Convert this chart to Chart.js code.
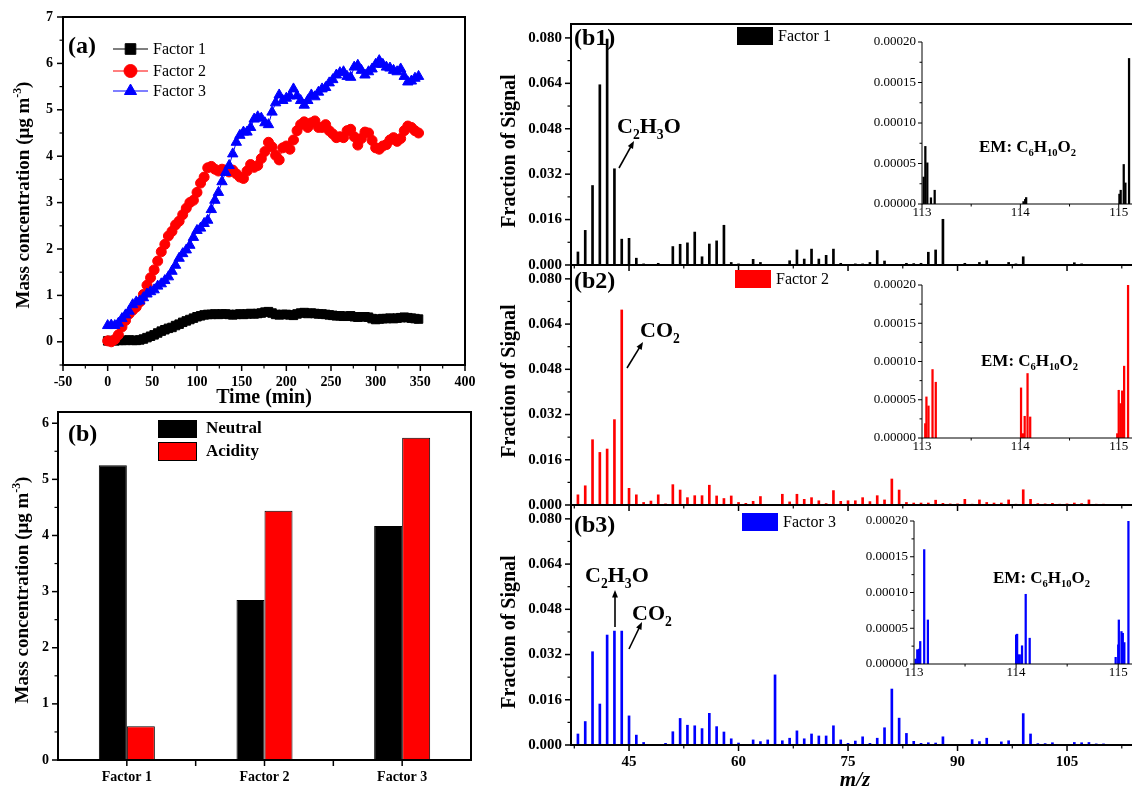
<!DOCTYPE html>
<html><head><meta charset="utf-8">
<script src="https://cdn.jsdelivr.net/npm/chart.js@4.4.1/dist/chart.umd.min.js"></script>
<style>
html,body{margin:0;padding:0;background:#fff;width:1132px;height:788px;overflow:hidden;position:relative;}
canvas{position:absolute;left:0;top:0;}
</style></head><body>
<script>
// ================= DATA =================
const timeMin = [0,4,8,12,16,20,24,28,32,36,40,44,48,52,56,60,64,68,72,76,80,84,88,92,96,100,104,108,112,116,120,124,128,132,136,140,144,148,152,156,160,164,168,172,176,180,184,188,192,196,200,204,208,212,216,220,224,228,232,236,240,244,248,252,256,260,264,268,272,276,280,284,288,292,296,300,304,308,312,316,320,324,328,332,336,340,344,348];
const factor1Series = [0.02,0.03,0.02,0.03,0.03,0.03,0.04,0.03,0.03,0.04,
 0.06,0.09,0.12,0.15,0.19,0.23,0.26,0.29,0.31,0.35,
 0.38,0.42,0.45,0.48,0.51,0.54,0.56,0.58,0.59,0.59,
 0.60,0.59,0.60,0.60,0.59,0.58,0.59,0.60,0.59,0.60,
 0.61,0.60,0.61,0.62,0.64,0.65,0.62,0.59,0.58,0.59,
 0.59,0.58,0.57,0.60,0.62,0.63,0.61,0.62,0.61,0.60,
 0.60,0.59,0.58,0.57,0.56,0.56,0.55,0.55,0.56,0.54,
 0.53,0.54,0.54,0.53,0.50,0.48,0.49,0.50,0.50,0.51,
 0.50,0.51,0.52,0.53,0.52,0.51,0.50,0.49];
const factor2Series = [0.02,0.00,0.05,0.15,0.32,0.46,0.60,0.68,0.75,0.86,
 1.02,1.22,1.38,1.55,1.74,1.94,2.10,2.28,2.38,2.52,
 2.60,2.74,2.88,3.00,3.05,3.22,3.42,3.55,3.75,3.78,
 3.72,3.68,3.72,3.70,3.66,3.70,3.62,3.55,3.52,3.68,
 3.82,3.76,3.80,3.95,4.10,4.30,4.20,4.02,3.92,4.18,
 4.22,4.15,4.35,4.55,4.68,4.74,4.62,4.72,4.76,4.62,
 4.62,4.68,4.55,4.48,4.40,4.42,4.40,4.55,4.58,4.42,
 4.24,4.38,4.52,4.50,4.34,4.18,4.15,4.22,4.25,4.35,
 4.40,4.32,4.38,4.55,4.65,4.62,4.55,4.50];
const factor3Series = [0.35,0.36,0.35,0.40,0.50,0.58,0.66,0.80,0.86,0.88,
 0.95,1.03,1.08,1.12,1.20,1.25,1.32,1.40,1.52,1.65,
 1.80,1.90,1.98,2.08,2.25,2.40,2.45,2.55,2.62,2.85,
 3.05,3.22,3.45,3.65,3.80,4.05,4.30,4.45,4.52,4.52,
 4.62,4.80,4.85,4.82,4.72,4.68,4.95,5.15,5.32,5.20,
 5.25,5.30,5.45,5.30,5.20,5.10,5.20,5.32,5.28,5.38,
 5.45,5.48,5.58,5.65,5.75,5.80,5.82,5.72,5.70,5.92,
 5.96,5.85,5.75,5.82,5.88,5.98,6.06,5.98,5.92,5.90,
 5.85,5.82,5.88,5.72,5.60,5.62,5.68,5.72];
const seriesNames = ['Factor 1','Factor 2','Factor 3'];
const timeTicks = [-50,0,50,100,150,200,250,300,350,400];
const concTicks = [0,1,2,3,4,5,6,7];

const barCategories = ['Factor 1','Factor 2','Factor 3'];
const neutralValues = [5.25,2.85,4.17];
const acidityValues = [0.60,4.44,5.74];
const barTicks = [0,1,2,3,4,5,6];
const barSeriesNames = ['Neutral','Acidity'];

const mzValues = [38,39,40,41,42,43,44,45,46,47,48,49,50,51,52,53,54,55,56,57,58,59,60,61,62,63,64,65,66,67,68,69,70,71,72,73,74,75,76,77,78,79,80,81,82,83,84,85,86,87,88,89,90,91,92,93,94,95,96,97,98,99,100,101,102,103,104,105,106,107,108,109,110,111,112,113];
const factor1Spectrum = [0.0046,0.0122,0.0280,0.0635,0.0796,0.0339,0.0091,0.0094,0.0024,0.0004,
 0.0002,0.0006,0.0001,0.0065,0.0073,0.0078,0.0116,0.0029,0.0074,0.0085,
 0.0140,0.0009,0.0004,0.0001,0.0020,0.0009,0.0002,0.0002,0.0002,0.0015,
 0.0053,0.0021,0.0056,0.0021,0.0034,0.0056,0.0006,0.0002,0.0004,0.0004,
 0.0009,0.0051,0.0014,0.0002,0.0002,0.0006,0.0005,0.0006,0.0045,0.0053,
 0.0161,0.0002,0.0002,0.0006,0.0002,0.0009,0.0015,0.0002,0.0001,0.0009,
 0.0004,0.0029,0.0002,0.0002,0.0002,0.0002,0.0002,0.0002,0.0008,0.0004,
 0.0002,0.0001,0.0002,0.0001,0.0001,0.0001];
const factor2Spectrum = [0.0036,0.0068,0.0231,0.0186,0.0198,0.0302,0.0690,0.0059,0.0036,0.0009,
 0.0014,0.0036,0.0004,0.0072,0.0053,0.0026,0.0033,0.0033,0.0070,0.0032,
 0.0023,0.0032,0.0009,0.0006,0.0013,0.0030,0.0002,0.0002,0.0038,0.0011,
 0.0038,0.0020,0.0026,0.0015,0.0005,0.0051,0.0013,0.0015,0.0015,0.0026,
 0.0012,0.0033,0.0018,0.0092,0.0053,0.0009,0.0007,0.0007,0.0007,0.0017,
 0.0006,0.0004,0.0004,0.0020,0.0003,0.0018,0.0009,0.0007,0.0007,0.0018,
 0.0003,0.0054,0.0020,0.0005,0.0004,0.0006,0.0003,0.0004,0.0007,0.0005,
 0.0018,0.0003,0.0003,0.0002,0.0002,0.0001];
const factor3Spectrum = [0.0039,0.0083,0.0330,0.0145,0.0389,0.0403,0.0403,0.0103,0.0035,0.0009,
 0.0002,0.0001,0.0006,0.0047,0.0094,0.0070,0.0068,0.0058,0.0112,0.0065,
 0.0046,0.0022,0.0007,0.0002,0.0018,0.0012,0.0018,0.0248,0.0015,0.0024,
 0.0050,0.0022,0.0039,0.0032,0.0032,0.0068,0.0018,0.0006,0.0014,0.0029,
 0.0006,0.0024,0.0061,0.0198,0.0095,0.0041,0.0013,0.0006,0.0008,0.0007,
 0.0029,0.0002,0.0002,0.0001,0.0019,0.0012,0.0024,0.0002,0.0011,0.0015,
 0.0002,0.0111,0.0039,0.0005,0.0005,0.0008,0.0002,0.0002,0.0009,0.0008,
 0.0009,0.0004,0.0004,0.0002,0.0002,0.0001];
const mzTicks = [45,60,75,90,105];
const fracTicks = [0,0.016,0.032,0.048,0.064,0.080];
const fracTickLabels = ['0.000','0.016','0.032','0.048','0.064','0.080'];

const emMz1 = [113.017,113.034,113.054,113.091,113.129,114.032,114.049,114.059,115.007,115.020,115.051,115.068,115.105];
const emSignal1 = [0.0000333,0.0000711,0.0000508,0.0000077,0.0000170,0.0000030,0.0000057,0.0000080,0.0000122,0.0000170,0.0000488,0.0000260,0.0001797];
const emMz2 = [113.033,113.045,113.066,113.107,113.140,114.007,114.028,114.044,114.073,114.100,114.985,115.000,115.018,115.035,115.055,115.095];
const emSignal2 = [0.0000188,0.0000537,0.0000419,0.0000895,0.0000729,0.0000655,0.0000057,0.0000284,0.0000843,0.0000275,0.0000057,0.0000624,0.0000450,0.0000616,0.0000939,0.0002000];
const emMz3 = [113.016,113.032,113.049,113.061,113.100,113.136,114.000,114.010,114.020,114.036,114.058,114.094,114.133,114.975,115.000,115.006,115.032,115.045,115.060,115.100];
const emSignal3 = [0.0000069,0.0000200,0.0000208,0.0000315,0.0001600,0.0000616,0.0000407,0.0000417,0.0000130,0.0000130,0.0000255,0.0000975,0.0000361,0.0000093,0.0000268,0.0000616,0.0000454,0.0000430,0.0000300,0.0002000];
const emTicksX = [113,114,115];
const emTicksY = [0,0.00005,0.00010,0.00015,0.00020];
const emTickLabels = ['0.00000','0.00005','0.00010','0.00015','0.00020'];

// ================= HELPERS =================
const W = 1132, H = 788;
const SERIF = '"Liberation Serif","Times New Roman",serif';
function fnt(size, weight, style){ return (style||'normal')+' '+(weight||'normal')+' '+size+'px '+SERIF; }
function ln(ctx,x1,y1,x2,y2,lw,col){ ctx.save(); ctx.beginPath(); ctx.lineWidth=lw; ctx.strokeStyle=col||'#000'; ctx.lineCap='butt'; ctx.moveTo(x1,y1); ctx.lineTo(x2,y2); ctx.stroke(); ctx.restore(); }
function txt(ctx,s,x,y,font,align,base,col){ ctx.save(); ctx.font=font; ctx.textAlign=align||'left'; ctx.textBaseline=base||'middle'; ctx.fillStyle=col||'#000'; ctx.fillText(s,x,y); ctx.restore(); }
function rich(ctx, parts, x, y, size, weight, align, style){
  ctx.save();
  const items=[]; let total=0;
  for (const [t,m] of parts){ const s = m ? size*0.62 : size; ctx.font=fnt(s,weight,style); const w=ctx.measureText(t).width; items.push({t,m,s,w}); total+=w; }
  let cx = align==='center' ? x-total/2 : (align==='right' ? x-total : x);
  ctx.textAlign='left'; ctx.textBaseline='alphabetic'; ctx.fillStyle='#000';
  for (const it of items){ ctx.font=fnt(it.s,weight,style); const dy = it.m===1 ? size*0.26 : (it.m===2 ? -size*0.42 : 0); ctx.fillText(it.t,cx,y+dy); cx+=it.w; }
  ctx.restore();
}
function richV(ctx, parts, cx, cy, size, weight){
  ctx.save(); ctx.translate(cx + size*0.34, cy); ctx.rotate(-Math.PI/2);
  rich(ctx, parts, 0, 0, size, weight, 'center'); ctx.restore();
}
function arrow(ctx,x1,y1,x2,y2,lw,head){
  lw = lw||1.6; head = head||8;
  const ang = Math.atan2(y2-y1,x2-x1);
  const bx = x2 - Math.cos(ang)*head*0.8, by = y2 - Math.sin(ang)*head*0.8;
  ln(ctx,x1,y1,bx,by,lw);
  ctx.save(); ctx.fillStyle='#000'; ctx.beginPath();
  ctx.moveTo(x2,y2);
  ctx.lineTo(x2 - Math.cos(ang-0.38)*head, y2 - Math.sin(ang-0.38)*head);
  ctx.lineTo(x2 - Math.cos(ang+0.38)*head, y2 - Math.sin(ang+0.38)*head);
  ctx.closePath(); ctx.fill(); ctx.restore();
}
function mids(arr){ const o=[]; for(let i=0;i<arr.length-1;i++) o.push((arr[i]+arr[i+1])/2); return o; }
function ticksY(ctx, ys, x0, vals, len, lw){ for (const v of vals){ const p=ys.getPixelForValue(v); ln(ctx,x0-len,p,x0,p,lw); } }
function ticksX(ctx, xs, y0, vals, len, lw){ for (const v of vals){ const p=xs.getPixelForValue(v); ln(ctx,p,y0,p,y0+len,lw); } }

function mk(rect, config){
  const c=document.createElement('canvas'); c.width=W; c.height=H; c.style.width=W+'px'; c.style.height=H+'px';
  document.body.appendChild(c);
  const o = config.options || {};
  o.responsive=false; o.maintainAspectRatio=false; o.animation=false; o.devicePixelRatio=1; o.events=[];
  o.layout={padding:{left:rect.l, top:rect.t, right:W-rect.r, bottom:H-rect.b}};
  o.plugins=Object.assign({legend:{display:false}, tooltip:{enabled:false}, title:{display:false}}, o.plugins||{});
  config.options=o;
  return new Chart(c, config);
}

// ================= PANEL (a) =================
const rectA = {l:63, t:17, r:465, b:365};
const ptsOf = arr => timeMin.map((t,i)=>({x:t, y:arr[i]}));
mk(rectA, {
  type:'line',
  data:{datasets:[
    {label:seriesNames[0], data:ptsOf(factor1Series), borderColor:'#000', backgroundColor:'#000', borderWidth:1, pointStyle:'rect', pointRadius:6, pointBorderWidth:1, pointBackgroundColor:'#000', pointBorderColor:'#000', order:2},
    {label:seriesNames[1], data:ptsOf(factor2Series), borderColor:'#ff0000', backgroundColor:'#ff0000', borderWidth:1, pointStyle:'circle', pointRadius:5, pointBorderWidth:1, pointBackgroundColor:'#ff0000', pointBorderColor:'#ff0000', order:1},
    {label:seriesNames[2], data:ptsOf(factor3Series), borderColor:'#0000ff', backgroundColor:'#0000ff', borderWidth:1, pointStyle:'triangle', pointRadius:6, pointBorderWidth:1, pointBackgroundColor:'#0000ff', pointBorderColor:'#0000ff', order:0}
  ]},
  options:{ scales:{ x:{type:'linear', display:false, min:-50, max:400}, y:{type:'linear', display:false, min:-0.5, max:7} } },
  plugins:[{id:'decoA', afterDraw(chart){
    const ctx=chart.ctx, a=chart.chartArea, xs=chart.scales.x, ys=chart.scales.y;
    ctx.save(); ctx.lineWidth=2; ctx.strokeStyle='#000'; ctx.strokeRect(a.left,a.top,a.right-a.left,a.bottom-a.top); ctx.restore();
    ticksX(ctx, xs, a.bottom, timeTicks, 6, 1.5);
    ticksX(ctx, xs, a.bottom, mids(timeTicks), 3.5, 1.2);
    ticksY(ctx, ys, a.left, concTicks, 6, 1.5);
    ticksY(ctx, ys, a.left, [-0.5].concat(mids(concTicks)), 3.5, 1.2);
    for (const v of timeTicks) txt(ctx, String(v), xs.getPixelForValue(v), a.bottom+17, fnt(14,'bold'), 'center');
    for (const v of concTicks) txt(ctx, String(v), a.left-10, ys.getPixelForValue(v), fnt(14,'bold'), 'right');
    txt(ctx, 'Time (min)', 264, 398, fnt(20,'bold'), 'center');
    richV(ctx, [['Mass concentration (\u03bcg m',0],['-3',2],[')',0]], 23, 195, 19, 'bold');
    txt(ctx, '(a)', 68, 47, fnt(24,'bold'), 'left');
    const leg = [[49,'rect','#000',7.5],[71,'circle','#ff0000',6.5],[91,'triangle','#0000ff',7]];
    leg.forEach((L,i)=>{
      ln(ctx,113,L[0],148,L[0],1.2,L[2]);
      ctx.save(); ctx.fillStyle=L[2]; ctx.strokeStyle=L[2]; ctx.lineWidth=1;
      Chart.helpers.drawPoint(ctx,{pointStyle:L[1], radius:L[3], borderWidth:1, rotation:0},130.5,L[0]); ctx.restore();
      txt(ctx, seriesNames[i], 153, L[0]+1, fnt(16), 'left');
    });
  }}]
});

// ================= PANEL (b) =================
const rectB = {l:58, t:412, r:471, b:760};
mk(rectB, {
  type:'bar',
  data:{labels:barCategories, datasets:[
    {label:barSeriesNames[0], data:neutralValues, backgroundColor:'#000', borderColor:'#000', borderWidth:1},
    {label:barSeriesNames[1], data:acidityValues, backgroundColor:'#ff0000', borderColor:'#000', borderWidth:1}
  ]},
  options:{ datasets:{bar:{categoryPercentage:0.407, barPercentage:1.0}},
    scales:{ x:{display:false}, y:{display:false, min:0, max:6.2} } },
  plugins:[{id:'decoB', afterDraw(chart){
    const ctx=chart.ctx, a=chart.chartArea, xs=chart.scales.x, ys=chart.scales.y;
    ctx.save(); ctx.lineWidth=2; ctx.strokeStyle='#000'; ctx.strokeRect(a.left,a.top,a.right-a.left,a.bottom-a.top); ctx.restore();
    const cx = barCategories.map((c,i)=>xs.getPixelForValue(i));
    const bnd = mids(cx);
    for (const p of cx) ln(ctx,p,a.bottom,p,a.bottom+6,1.5);
    for (const p of bnd) ln(ctx,p,a.bottom,p,a.bottom+6,1.5);
    ticksY(ctx, ys, a.left, barTicks, 6, 1.5);
    ticksY(ctx, ys, a.left, mids(barTicks), 3.5, 1.2);
    barCategories.forEach((c,i)=>txt(ctx, c, cx[i], 777, fnt(14,'bold'), 'center'));
    for (const v of barTicks) txt(ctx, String(v), a.left-9, ys.getPixelForValue(v), fnt(14,'bold'), 'right');
    richV(ctx, [['Mass concentration (\u03bcg m',0],['-3',2],[')',0]], 22, 590, 19, 'bold');
    txt(ctx, '(b)', 68, 435, fnt(24,'bold'), 'left');
    ctx.save(); ctx.fillStyle='#000'; ctx.fillRect(158,420,39,18);
    ctx.fillStyle='#ff0000'; ctx.fillRect(158,442,39,19); ctx.strokeStyle='#000'; ctx.lineWidth=1; ctx.strokeRect(158.5,442.5,38,18); ctx.restore();
    txt(ctx, barSeriesNames[0], 206, 429, fnt(17,'bold'), 'left');
    txt(ctx, barSeriesNames[1], 206, 452, fnt(17,'bold'), 'left');
  }}]
});

// ================= SPECTRA b1-b3 =================
const xMin = 37.05, xMax = 113.9;
function spectrum(rect, values, color, opt){
  return mk(rect, {
    type:'bar',
    data:{datasets:[{label:opt.name, data:mzValues.map((m,i)=>({x:m, y:values[i]})), backgroundColor:color, borderWidth:0, barThickness:2}]},
    options:{ scales:{ x:{type:'linear', display:false, offset:false, min:xMin, max:xMax}, y:{type:'linear', display:false, min:0, max:0.0849} } },
    plugins:[{id:'decoS'+opt.tag, afterDraw(chart){
      const ctx=chart.ctx, a=chart.chartArea, xs=chart.scales.x, ys=chart.scales.y;
      ln(ctx, a.left, a.top, a.right, a.top, 2);
      ln(ctx, a.left, a.top-1, a.left, a.bottom+1, 2);
      ln(ctx, a.left-1, a.bottom, a.right, a.bottom, 2);
      ticksX(ctx, xs, a.bottom, mzTicks, 6, 1.5);
      ticksX(ctx, xs, a.bottom, [37.5,52.5,67.5,82.5,97.5,112.5], 3.5, 1.2);
      ticksY(ctx, ys, a.left, fracTicks, 6, 1.5);
      ticksY(ctx, ys, a.left, [0.008,0.024,0.040,0.056,0.072], 3.5, 1.2);
      fracTicks.forEach((v,i)=>txt(ctx, fracTickLabels[i], a.left-9, ys.getPixelForValue(v), fnt(15,'bold'), 'right'));
      if (opt.xlabels){
        for (const v of mzTicks) txt(ctx, String(v), xs.getPixelForValue(v), 762, fnt(15,'bold'), 'center');
        txt(ctx, 'm/z', 855, 781, fnt(21,'bold','italic'), 'center');
      }
      richV(ctx, [['Fraction of Signal',0]], 508, opt.titleY, 20, 'bold');
      txt(ctx, opt.panel, 574, a.top+opt.panelDy, fnt(24,'bold'), 'left');
      ctx.save(); ctx.fillStyle=color; ctx.fillRect(opt.leg[0], a.top+opt.leg[1], 36, 18); ctx.restore();
      txt(ctx, opt.name, opt.leg[0]+41, a.top+opt.leg[1]+10, fnt(16), 'left');
      opt.annot(ctx);
    }}]
  });
}
spectrum({l:571,t:24,r:1132,b:265}, factor1Spectrum, '#000', {tag:1, name:seriesNames[0], panel:'(b1)', panelDy:15, titleY:151, leg:[737,3], xlabels:false,
  annot(ctx){ rich(ctx, [['C',0],['2',1],['H',0],['3',1],['O',0]], 617, 133, 22, 'bold', 'left'); arrow(ctx, 619, 168, 634, 141); }});
spectrum({l:571,t:265,r:1132,b:505}, factor2Spectrum, '#ff0000', {tag:2, name:seriesNames[1], panel:'(b2)', panelDy:17, titleY:381, leg:[735,5], xlabels:false,
  annot(ctx){ rich(ctx, [['C',0],['O',0],['2',1]], 640, 337, 22, 'bold', 'left'); arrow(ctx, 627, 368, 643, 342); }});
spectrum({l:571,t:505,r:1132,b:745}, factor3Spectrum, '#0000ff', {tag:3, name:seriesNames[2], panel:'(b3)', panelDy:21, titleY:632, leg:[742,8], xlabels:true,
  annot(ctx){ rich(ctx, [['C',0],['2',1],['H',0],['3',1],['O',0]], 585, 582, 22, 'bold', 'left'); arrow(ctx, 615, 627, 615, 590);
    rich(ctx, [['C',0],['O',0],['2',1]], 632, 620, 22, 'bold', 'left'); arrow(ctx, 629, 649, 642, 622); }});

// ================= INSETS =================
function inset(rect, mzs, sigs, color, textPos){
  return mk(rect, {
    type:'bar',
    data:{datasets:[{label:'EM', data:mzs.map((m,i)=>({x:m, y:sigs[i]})), backgroundColor:color, borderWidth:0, barThickness:1.6}]},
    options:{ scales:{ x:{type:'linear', display:false, offset:false, min:113, max:115.135}, y:{type:'linear', display:false, min:0, max:0.0002} } },
    plugins:[{id:'decoI', afterDraw(chart){
      const ctx=chart.ctx, a=chart.chartArea, xs=chart.scales.x, ys=chart.scales.y;
      ln(ctx, a.left, a.top, a.left, a.bottom+0.5, 1);
      ln(ctx, a.left, a.bottom, a.right, a.bottom, 1);
      ticksY(ctx, ys, a.left, emTicksY, 4, 1);
      ticksY(ctx, ys, a.left, mids(emTicksY), 2.5, 1);
      ticksX(ctx, xs, a.bottom, emTicksX, 4, 1);
      ticksX(ctx, xs, a.bottom, mids(emTicksX), 2.5, 1);
      emTicksY.forEach((v,i)=>txt(ctx, emTickLabels[i], a.left-6, ys.getPixelForValue(v), fnt(13), 'right'));
      emTicksX.forEach(v=>txt(ctx, String(v), xs.getPixelForValue(v), a.bottom+9, fnt(13), 'center'));
      rich(ctx, [['EM: C',0],['6',1],['H',0],['10',1],['O',0],['2',1]], textPos[0], textPos[1], 17, 'bold', 'left');
    }}]
  });
}
inset({l:922,t:42,r:1132,b:204}, emMz1, emSignal1, '#000', [979,152]);
inset({l:922,t:285,r:1132,b:438}, emMz2, emSignal2, '#ff0000', [981,366]);
inset({l:914,t:521,r:1132,b:664}, emMz3, emSignal3, '#0000ff', [993,583]);
</script>
</body></html>
